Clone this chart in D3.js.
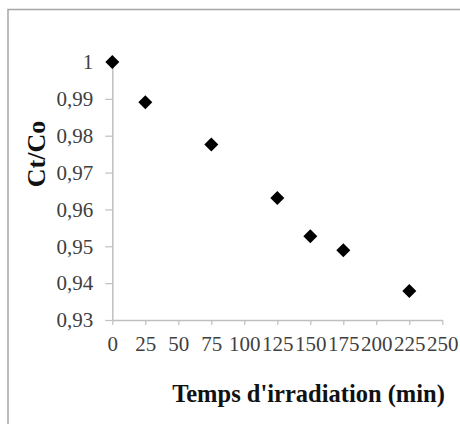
<!DOCTYPE html>
<html><head><meta charset="utf-8">
<script src="https://cdn.jsdelivr.net/npm/d3@7"></script>
<style>body{margin:0;background:#fff}svg{display:block}</style>
</head><body>
<svg id="c" width="460" height="424"></svg>
<script>
const times = [0, 25, 75, 125, 150, 175, 225];
const ratios = [1, 0.9891, 0.9776, 0.9631, 0.9527, 0.9489, 0.9379];
const xTicks = [0, 25, 50, 75, 100, 125, 150, 175, 200, 225, 250];
const yTicks = [0.93, 0.94, 0.95, 0.96, 0.97, 0.98, 0.99, 1];
const xTitle = "Temps d'irradiation (min)";
const yTitle = "Ct/Co";

const svg = d3.select("#c");
svg.append("rect").attr("x", 8).attr("y", 9.5).attr("width", 470).attr("height", 440)
  .attr("fill", "#fff").attr("stroke", "#a6a6a6").attr("stroke-width", 1.5);

const x = d3.scaleLinear().domain([0, 250]).range([112.3, 442.3]);
const y = d3.scaleLinear().domain([0.93, 1]).range([320, 62]);
const fmt = d => String(+d.toFixed(2)).replace(".", ",");

const gx = svg.append("g").attr("transform", "translate(0,320)")
  .call(d3.axisBottom(x).tickValues(xTicks).tickSize(5).tickSizeOuter(0).tickPadding(11).tickFormat(d => d));
const gy = svg.append("g").attr("transform", "translate(112.3,0)")
  .call(d3.axisLeft(y).tickValues(yTicks).tickSize(7).tickSizeOuter(0).tickPadding(12).tickFormat(fmt));
[gx, gy].forEach(g => {
  g.select(".domain").attr("stroke", "#bfbfbf").attr("stroke-width", 1.5);
  g.selectAll(".tick line").attr("stroke", "#bfbfbf").attr("stroke-width", 1.2);
  g.selectAll(".tick text").attr("fill", "#404040")
    .style("font-family", "'Liberation Serif','Times New Roman',serif").style("font-size", "21px");
});
gy.selectAll(".tick line").filter(d => d === 1).remove();

svg.append("g").selectAll("path").data(times.map((t, i) => [t, ratios[i]])).join("path")
  .attr("d", d3.symbol(d3.symbolSquare, 98)())
  .attr("transform", d => `translate(${x(d[0])},${y(d[1])}) rotate(45)`)
  .attr("fill", "#000");

svg.append("text").attr("x", 308.5).attr("y", 402).attr("text-anchor", "middle")
  .style("font-family", "'Liberation Serif','Times New Roman',serif").style("font-weight", "bold")
  .style("font-size", "24.5px").attr("fill", "#111").text(xTitle);
svg.append("text").attr("transform", "translate(45,154) rotate(-90)").attr("text-anchor", "middle")
  .style("font-family", "'Liberation Serif','Times New Roman',serif").style("font-weight", "bold")
  .style("font-size", "26px").attr("fill", "#111").text(yTitle);
</script>
</body></html>
